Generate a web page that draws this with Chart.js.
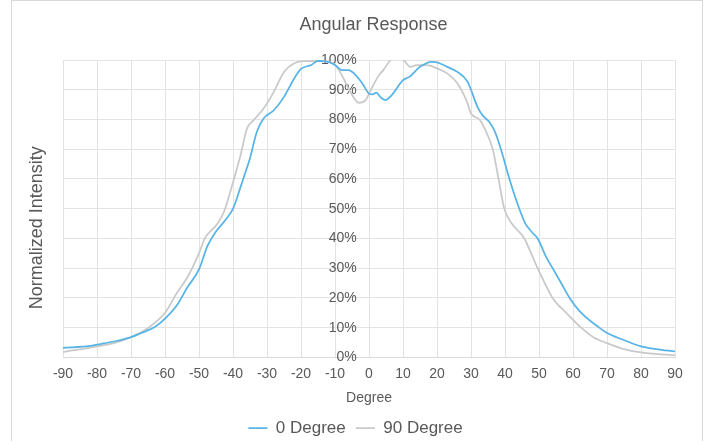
<!DOCTYPE html>
<html>
<head>
<meta charset="utf-8">
<script src="https://cdn.jsdelivr.net/npm/chart.js@4.4.1/dist/chart.umd.min.js"></script>
<style>
  html, body { margin: 0; padding: 0; background: #fff; }
  #wrap { position: relative; width: 710px; height: 441px; overflow: hidden; }
  #frame { position: absolute; left: 11px; top: 0; width: 690px; height: 470px; border: 1px solid #d9d9d9; pointer-events: none; }
  canvas { position: absolute; left: 0; top: 0; }
</style>
</head>
<body>
<div id="wrap">
  <div id="frame"></div>
  <canvas id="angular" width="710" height="441"></canvas>
</div>
<script>
// values (degrees / percent)
const degrees0 = [-90, -82, -78, -74, -70, -67, -63, -60, -56.5, -53.5, -50, -47.5, -45, -42, -40, -38, -36, -35, -33, -31,
  -28, -25, -22, -20, -17, -15, -12.5, -10, -8, -6, -4, -2, 0, 1, 2.2, 3.3, 4.8, 6.7, 10, 12,
  15, 18.5, 20, 23, 26, 29, 30, 32, 33.4, 35.5, 37, 38.8, 41.3, 44.2, 46, 48, 49.6, 52, 54, 56.5,
  59, 62, 67.7, 70, 74.6, 80, 84.4, 90];
const intensity0 = [3.2, 3.9, 4.7, 5.6, 6.8, 8.2, 10.2, 13, 17.5, 23.4, 29.6, 37.5, 42.3, 46.5, 50, 56.5, 63.4, 67, 75.8, 80.3,
  83.1, 87.6, 93.8, 97, 98.3, 99.7, 99.5, 98.3, 96.6, 96.6, 95, 92.2, 88.7, 88.4, 89, 87.6, 86.5, 88.2, 93.2, 94.4,
  97.7, 99.4, 99.2, 97.7, 96, 92.7, 90, 84, 81.4, 79, 76, 70, 60, 50, 45, 42, 40, 34, 30, 25,
  20, 15.5, 10, 8.2, 6, 3.7, 2.8, 2];

const degrees90 = [-90, -80, -75, -70, -65, -60, -56.5, -53.5, -50, -48.3, -44.7, -42.7, -40, -37.8, -35.9, -34, -31, -28, -25, -22,
  -19, -15, -11.4, -9.4, -7.5, -5.5, -3, -1, 1, 3, 4.2, 6.3, 8, 10.2, 12.2, 14, 17, 20, 23, 26,
  28.8, 30, 32.5, 34, 36.4, 38.1, 39.8, 42, 45.7, 47.5, 49.6, 54, 58, 62.4, 66, 70, 75, 80, 85, 90];
const intensity90 = [1.8, 3.7, 4.8, 6.8, 9.9, 15, 21.7, 26.8, 35, 40, 44.8, 48.8, 58.9, 67.9, 76.9, 79.7, 83.7, 89.3, 96, 98.9,
  99.6, 99.6, 99.3, 97.7, 93.8, 89.3, 85.6, 86.5, 91, 95, 96.6, 100, 102, 100, 97.7, 98.3, 98.3, 97.2, 95.5, 92.2,
  86, 82, 80, 77, 70, 60, 50, 45, 40, 35.5, 30, 20, 15, 10, 6.8, 4.8, 2.8, 1.7, 1.1, 0.8];

const seriesNames = ['0 Degree', '90 Degree'];

const textColor = '#595959';
const gridColor = '#e3e3e3';
const fontFamily = '"Liberation Sans", Arial, sans-serif';

function toPoints(xs, ys) {
  return xs.map((x, i) => ({x: x, y: ys[i]}));
}

// excel puts the left title lower and the chart title a bit right of centre
const layoutTweaks = {
  id: 'layoutTweaks',
  afterLayout(chart) {
    const s = chart.scales.yTitle;
    s.left = 0;
    s.bottom += 38;
    chart.titleBlock.left += 36;
  }
};

const ctx = document.getElementById('angular').getContext('2d');

new Chart(ctx, {
  type: 'line',
  data: {
    datasets: [
      {
        label: seriesNames[0],
        data: toPoints(degrees0, intensity0),
        borderColor: '#56b4e6',
        backgroundColor: '#56b4e6',
        borderWidth: 1.75,
        pointRadius: 0,
        cubicInterpolationMode: 'monotone',
        clip: 0,
        xAxisID: 'x',
        yAxisID: 'y'
      },
      {
        label: seriesNames[1],
        data: toPoints(degrees90, intensity90),
        borderColor: '#c9c9c9',
        backgroundColor: '#c9c9c9',
        borderWidth: 1.75,
        pointRadius: 0,
        cubicInterpolationMode: 'monotone',
        clip: 0,
        xAxisID: 'x',
        yAxisID: 'y'
      }
    ]
  },
  options: {
    responsive: false,
    animation: false,
    layout: {
      padding: {left: 36, right: 35, top: 0, bottom: -5.5}
    },
    plugins: {
      title: {
        display: true,
        text: 'Angular Response',
        color: textColor,
        font: {family: fontFamily, size: 18, weight: 'normal'},
        padding: {top: 14.2, bottom: 24.2}
      },
      legend: {
        position: 'bottom',
        labels: {
          usePointStyle: true,
          pointStyle: 'line',
          pointStyleWidth: 19,
          color: textColor,
          font: {family: fontFamily, size: 17},
          padding: 10
        }
      },
      tooltip: {
        enabled: false
      }
    },
    scales: {
      x: {
        type: 'linear',
        min: -90,
        max: 90,
        ticks: {
          stepSize: 10,
          autoSkip: false,
          maxRotation: 0,
          color: textColor,
          font: {family: fontFamily, size: 14},
          padding: 8
        },
        grid: {color: gridColor, drawTicks: false},
        border: {color: '#d9d9d9'},
        title: {
          display: true,
          text: 'Degree',
          color: textColor,
          font: {family: fontFamily, size: 14},
          padding: {top: 0, bottom: 2.5}
        }
      },
      y: {
        // labels sit just left of the 0 degree line
        position: {x: -3.6},
        min: 0,
        max: 100,
        ticks: {
          stepSize: 10,
          color: textColor,
          font: {family: fontFamily, size: 14},
          callback: (v) => v + '%'
        },
        grid: {color: gridColor, drawTicks: false},
        border: {display: false}
      },
      yTitle: {
        position: 'left',
        ticks: {display: false},
        grid: {display: false},
        border: {display: false},
        title: {
          display: true,
          text: 'Normalized Intensity',
          color: textColor,
          font: {family: fontFamily, size: 18},
          padding: {top: 26, bottom: 0}
        },
        afterFit: (s) => { s.width = 27; }
      }
    }
  },
  plugins: [layoutTweaks]
});
</script>
</body>
</html>
